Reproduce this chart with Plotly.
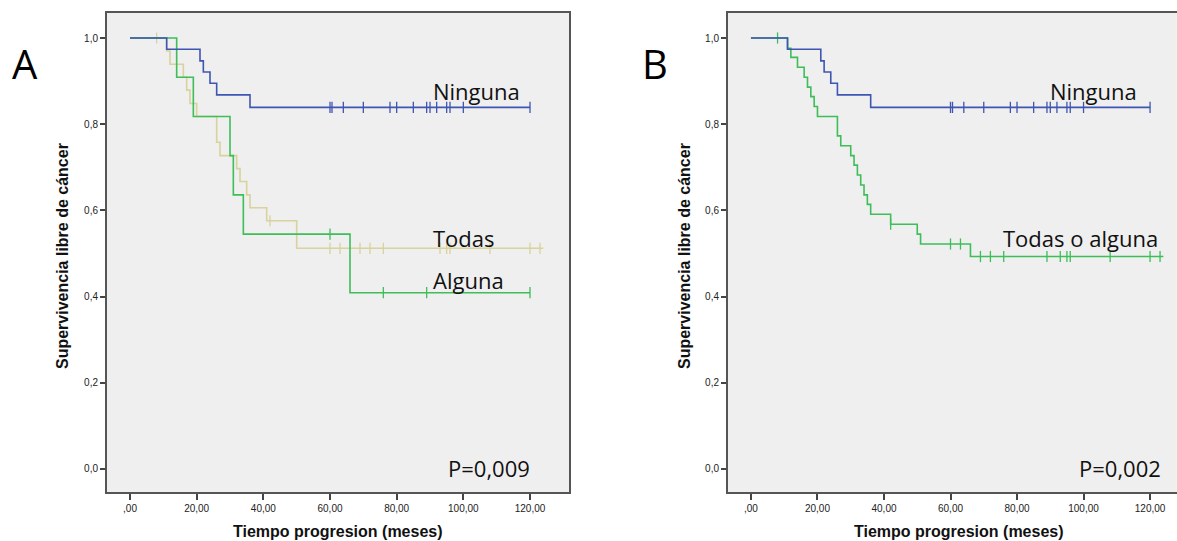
import plotly.graph_objects as go

W, H = 1177, 541

# ---------------- data ----------------
# Panel A
a_ninguna_t = [0, 11, 21, 22, 24, 26, 36, 120]
a_ninguna_s = [1.0, 0.974, 0.947, 0.921, 0.895, 0.868, 0.839, 0.839]
a_ninguna_cens_t = [60, 60.6, 64, 70, 78, 80, 85, 89, 90, 92, 95, 96, 100, 120]

a_todas_t = [0, 11, 12, 16, 17, 18, 20, 26, 27, 32, 33, 35, 36, 41, 50, 124]
a_todas_s = [1.0, 0.970, 0.939, 0.909, 0.879, 0.848, 0.818, 0.758, 0.727,
             0.697, 0.667, 0.636, 0.606, 0.576, 0.512, 0.512]
a_todas_cens_t = [8, 42, 60, 63, 69, 72, 76, 93, 95, 96, 108, 120, 123]

a_alguna_t = [0, 14, 19, 30, 31, 34, 66, 120]
a_alguna_s = [1.0, 0.909, 0.818, 0.727, 0.636, 0.545, 0.409, 0.409]
a_alguna_cens_t = [60, 76, 89, 120]

# Panel B
b_ninguna_t = a_ninguna_t
b_ninguna_s = a_ninguna_s
b_ninguna_cens_t = a_ninguna_cens_t

b_todas_alg_t = [0, 11, 12, 14, 16, 17, 18, 19, 20, 26, 27, 30, 31, 32, 33, 34,
                 35, 36, 42, 50, 51, 66, 124]
b_todas_alg_s = [1.0, 0.976, 0.955, 0.932, 0.909, 0.886, 0.864, 0.841, 0.818,
                 0.773, 0.750, 0.727, 0.705, 0.682, 0.659, 0.636, 0.614, 0.591,
                 0.568, 0.545, 0.522, 0.493, 0.493]
b_todas_alg_cens_t = [8, 42, 60, 63, 69, 72, 76, 89, 93, 95, 96, 108, 120, 123]

x_tickvals = [0, 20, 40, 60, 80, 100, 120]
x_ticktext = [",00", "20,00", "40,00", "60,00", "80,00", "100,00", "120,00"]
y_tickvals = [0.0, 0.2, 0.4, 0.6, 0.8, 1.0]
y_ticktext = ["0,0", "0,2", "0,4", "0,6", "0,8", "1,0"]

BLUE = "#3E55B2"
GREEN = "#3DBE58"
BEIGE = "#D8D29C"


def surv_at(ts, ss, t):
    v = ss[0]
    for ti, si in zip(ts, ss):
        if ti <= t:
            v = si
    return v


fig = go.Figure()


def add_curve(ts, ss, cens, color, xa, ya):
    fig.add_trace(go.Scatter(x=ts, y=ss, mode="lines", line=dict(color=color, width=1.6, shape="hv"),
                             xaxis=xa, yaxis=ya, showlegend=False, hoverinfo="skip"))
    fig.add_trace(go.Scatter(x=cens, y=[surv_at(ts, ss, c) for c in cens], mode="markers",
                             marker=dict(symbol="line-ns-open", size=8, color=color,
                                         line=dict(color=color, width=1.3)),
                             xaxis=xa, yaxis=ya, showlegend=False, hoverinfo="skip"))


add_curve(a_todas_t, a_todas_s, a_todas_cens_t, BEIGE, "x", "y")
add_curve(a_alguna_t, a_alguna_s, a_alguna_cens_t, GREEN, "x", "y")
add_curve(a_ninguna_t, a_ninguna_s, a_ninguna_cens_t, BLUE, "x", "y")

add_curve(b_todas_alg_t, b_todas_alg_s, b_todas_alg_cens_t, GREEN, "x2", "y2")
add_curve(b_ninguna_t, b_ninguna_s, b_ninguna_cens_t, BLUE, "x2", "y2")


def px(x):
    return x / W


def py(y):
    return 1 - y / H


tickfont = dict(family="Liberation Sans, Arial", size=10, color="#222")
common_x = dict(tickvals=x_tickvals, ticktext=x_ticktext, ticks="outside", ticklen=6,
                tickwidth=1.5, tickcolor="#444", showgrid=False, zeroline=False,
                showline=True, linecolor="#555", linewidth=2, tickfont=tickfont)
common_y = dict(tickvals=y_tickvals, ticktext=y_ticktext, ticks="outside", ticklen=5,
                tickwidth=1.5, tickcolor="#444", showgrid=False, zeroline=False,
                showline=True, linecolor="#555", linewidth=2, tickfont=tickfont,
                range=[-0.0534, 1.058])

fig.update_layout(
    width=W, height=H, margin=dict(l=0, r=0, t=0, b=0),
    paper_bgcolor="white", plot_bgcolor="#EFEFEF",
    xaxis=dict(domain=[px(107), px(569)], range=[-6.9, 131.7], anchor="y", mirror=True, **common_x),
    yaxis=dict(domain=[py(492), py(13)], anchor="x", mirror=True, **common_y),
    xaxis2=dict(domain=[px(728), 1.0], range=[-6.9, 128.1], anchor="y2", mirror=True, **common_x),
    yaxis2=dict(domain=[py(492), py(13)], anchor="x2", mirror=False, **common_y),
)

lab_font = dict(family="Open Sans", size=22, color="#111")
ann = []


def text(x, y, s, font, xanchor="left", yanchor="middle", angle=0):
    ann.append(dict(x=px(x), y=py(y), xref="paper", yref="paper", text=s, showarrow=False,
                    xanchor=xanchor, yanchor=yanchor, font=font, textangle=angle))


text(431, 91, "Ninguna", lab_font)
text(431, 238, "Todas", lab_font)
text(431, 280, "Alguna", lab_font)
text(1048, 91, "Ninguna", lab_font)
text(1001, 238, "Todas o alguna", lab_font)
text(446, 468, "P=0,009", lab_font)
text(1077, 468, "P=0,002", lab_font)

big = dict(family="Open Sans", size=40, color="#000")
text(25, 64, "A", big, xanchor="center")
text(655, 64, "B", big, xanchor="center")

tfont = dict(family="Liberation Sans, Arial", size=16, color="#111")
text(338, 531, "<b>Tiempo progresion (meses)</b>", tfont, xanchor="center")
text(959, 531, "<b>Tiempo progresion (meses)</b>", tfont, xanchor="center")
text(62, 256, "<b>Supervivencia libre de cáncer</b>", tfont, xanchor="center", angle=-90)
text(684, 256, "<b>Supervivencia libre de cáncer</b>", tfont, xanchor="center", angle=-90)

fig.update_layout(annotations=ann)

fig.write_html("out.html")
